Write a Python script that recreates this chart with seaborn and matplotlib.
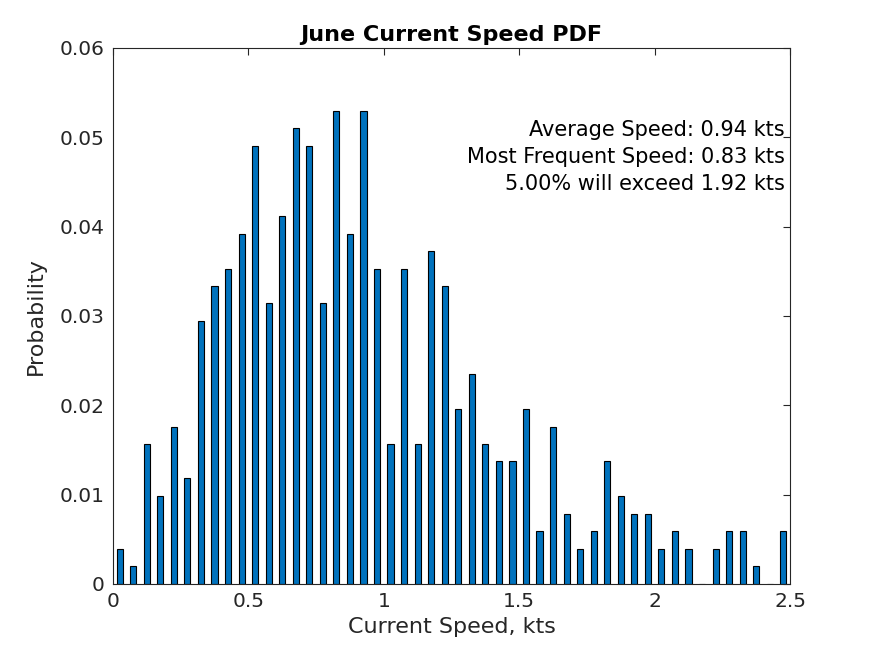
import numpy as np
import matplotlib
matplotlib.use('Agg')
import matplotlib.pyplot as plt
import seaborn as sns

# bin centres (kts) and probability of each 0.05 kt bin
speed_bins = np.arange(0.025, 2.5, 0.05).round(3)
probability = [0.0039, 0.0020, 0.0157, 0.0098, 0.0176, 0.0118, 0.0294, 0.0333,
               0.0353, 0.0392, 0.0490, 0.0314, 0.0412, 0.0510, 0.0490, 0.0314,
               0.0529, 0.0392, 0.0529, 0.0353, 0.0157, 0.0353, 0.0157, 0.0373,
               0.0333, 0.0196, 0.0235, 0.0157, 0.0137, 0.0137, 0.0196, 0.0059,
               0.0176, 0.0078, 0.0039, 0.0059, 0.0137, 0.0098, 0.0078, 0.0078,
               0.0039, 0.0059, 0.0039, 0.0, 0.0039, 0.0059, 0.0059, 0.0020,
               0.0, 0.0059]
stats_text = ['Average Speed: 0.94 kts',
              'Most Frequent Speed: 0.83 kts',
              '5.00% will exceed 1.92 kts']

sns.set_style('white')
plt.rcParams['font.family'] = ['DejaVu Sans']
dark = '#262626'

fig = plt.figure(figsize=(8.75, 6.56), dpi=100)
ax = fig.add_axes([0.129, 0.110, 0.774, 0.817])

sns.barplot(x=speed_bins, y=probability, native_scale=True, width=0.45,
            color='#0072BD', saturation=1, edgecolor='black', linewidth=0.8, ax=ax)

ax.set_xlim(0, 2.5)
ax.set_ylim(0, 0.06)
ax.set_xticks([0, 0.5, 1, 1.5, 2, 2.5])
ax.set_xticklabels(['0', '0.5', '1', '1.5', '2', '2.5'])
ax.set_yticks(np.arange(0, 0.061, 0.01))
ax.set_yticklabels(['0', '0.01', '0.02', '0.03', '0.04', '0.05', '0.06'])
ax.tick_params(direction='in', top=True, right=True, length=5, width=0.8,
               colors=dark, labelsize=14.5, labelcolor=dark, pad=6)
for s in ax.spines.values():
    s.set_color(dark)
    s.set_linewidth(0.8)

ax.set_xlabel('Current Speed, kts', fontsize=16, color=dark, labelpad=4)
ax.set_ylabel('Probability', fontsize=16, color=dark, labelpad=10)
ax.set_title('June Current Speed PDF', fontsize=16, fontweight='bold', color='black', pad=5)

ax.text(2.48, 0.0519, '\n'.join(stats_text), ha='right', va='top',
        fontsize=15, color='black', linespacing=1.42)

fig.savefig('out.png', dpi=100)
